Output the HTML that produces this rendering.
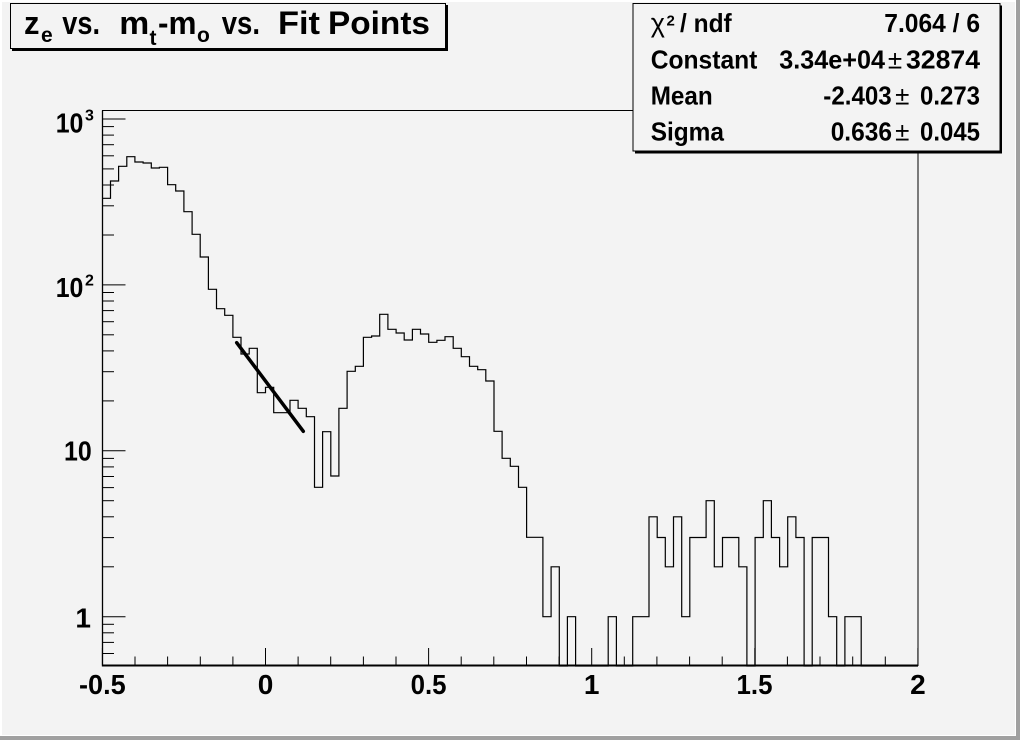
<!DOCTYPE html>
<html>
<head>
<meta charset="utf-8">
<style>
html,body{margin:0;padding:0;background:#f3f3f3;}
svg{display:block;}
text{font-family:"Liberation Sans",Arial,sans-serif;font-weight:bold;fill:#000;}
</style>
</head>
<body>
<svg width="1020" height="740" viewBox="0 0 1020 740" xmlns="http://www.w3.org/2000/svg">
  <!-- canvas background and bevel -->
  <rect x="0" y="0" width="1020" height="740" fill="#f3f3f3"/>
  <rect x="0" y="0" width="1020" height="2" fill="#ffffff"/>
  <rect x="0" y="0" width="2" height="740" fill="#ffffff"/>
  <rect x="1015" y="0" width="1" height="736" fill="#ffffff"/>
  <rect x="0" y="735" width="1016" height="1" fill="#ffffff"/>
  <rect x="1016" y="0" width="4" height="740" fill="#a0a0a0"/>
  <rect x="0" y="736" width="1020" height="4" fill="#a0a0a0"/>

  <!-- frame -->
  <rect x="102.5" y="110.5" width="815.5" height="555" fill="none" stroke="#000" stroke-width="1"/>
  <line x1="102.5" y1="665.5" x2="918" y2="665.5" stroke="#000" stroke-width="2"/>
  <line x1="102.5" y1="110.5" x2="102.5" y2="666.5" stroke="#000" stroke-width="1.3"/>

  <!-- histogram -->
  <path fill="none" stroke="#000" stroke-width="1.2" d="M102.3 198.3
    H110.5 V181 H118.6 V166.3 H126.8 V156.7 H134.9 V162 H143.1 V163 H151.3 V168 H159.4 V167.3
    H167.6 V184.7 H175.7 V191 H183.9 V211.7 H192.1 V234.3 H200.2 V257 H208.4 V289.3 H216.5 V308.7
    H224.7 V315.3 H232.9 V337.3 H241 V354 H249.2 V348.3 H257.3 V392.7 H265.5 V387.3 H273.7 V412.7
    H290 V400.3 H298.1 V408.3 H306.3 V416.7 H314.5 V487.3 H322.6 V431.7 H330.8 V476 H338.9 V408.3
    H347.1 V371.3 H355.3 V366.3 H363.4 V337.3 H371.6 V336 H379.7 V314.3 H387.9 V329.3 H396.1 V333
    H404.2 V340 H412.4 V329.3 H420.5 V334 H428.7 V342.3 H436.9 V340.3 H445 V336.7 H453.2 V348.3
    H461.3 V356.7 H469.5 V366.3 H477.7 V369.7 H485.8 V381 H494 V431.3 H502.1 V458.3 H510.3 V466.3
    H518.5 V487.3 H526.6 V537.3 H542.9 V616.7 H551.1 V566.8 H559.3 V666 H567.4 V616.7 H575.6 V666
    H608.2 V616.7 H616.4 V666 H632.7 V616.7 H649 V516.8 H657.2 V537.5 H665.3 V566.8 H673.5 V516.8
    H681.7 V616.7 H689.8 V537.5 H706.1 V500.7 H714.3 V566.8 H722.5 V537.5 H738.8 V566.8 H746.9 V666
    H755.1 V537.5 H763.3 V500.7 H771.4 V537.5 H779.6 V566.8 H787.7 V516.8 H795.9 V537.5 H804.1 V666
    H812.2 V537.5 H828.5 V616.7 H836.7 V666 H844.9 V616.7 H861.2 V666 H918"/>

  <!-- fit line -->
  <line x1="236.7" y1="342.7" x2="303.3" y2="431.3" stroke="#000" stroke-width="3.5" stroke-linecap="round"/>

  <!-- y axis ticks -->
  <g stroke="#000" stroke-width="1">
    <line x1="102.5" y1="119" x2="125.5" y2="119"/>
    <line x1="102.5" y1="284.9" x2="125.5" y2="284.9"/>
    <line x1="102.5" y1="450.8" x2="125.5" y2="450.8"/>
    <line x1="102.5" y1="616.7" x2="125.5" y2="616.7"/>
    <line x1="102.5" y1="126.6" x2="114" y2="126.6"/>
    <line x1="102.5" y1="135.1" x2="114" y2="135.1"/>
    <line x1="102.5" y1="144.7" x2="114" y2="144.7"/>
    <line x1="102.5" y1="155.8" x2="114" y2="155.8"/>
    <line x1="102.5" y1="168.9" x2="114" y2="168.9"/>
    <line x1="102.5" y1="185" x2="114" y2="185"/>
    <line x1="102.5" y1="205.8" x2="114" y2="205.8"/>
    <line x1="102.5" y1="235" x2="114" y2="235"/>
    <line x1="102.5" y1="292.5" x2="114" y2="292.5"/>
    <line x1="102.5" y1="301" x2="114" y2="301"/>
    <line x1="102.5" y1="310.6" x2="114" y2="310.6"/>
    <line x1="102.5" y1="321.7" x2="114" y2="321.7"/>
    <line x1="102.5" y1="334.8" x2="114" y2="334.8"/>
    <line x1="102.5" y1="350.9" x2="114" y2="350.9"/>
    <line x1="102.5" y1="371.7" x2="114" y2="371.7"/>
    <line x1="102.5" y1="400.9" x2="114" y2="400.9"/>
    <line x1="102.5" y1="458.4" x2="114" y2="458.4"/>
    <line x1="102.5" y1="466.9" x2="114" y2="466.9"/>
    <line x1="102.5" y1="476.5" x2="114" y2="476.5"/>
    <line x1="102.5" y1="487.6" x2="114" y2="487.6"/>
    <line x1="102.5" y1="500.7" x2="114" y2="500.7"/>
    <line x1="102.5" y1="516.8" x2="114" y2="516.8"/>
    <line x1="102.5" y1="537.6" x2="114" y2="537.6"/>
    <line x1="102.5" y1="566.8" x2="114" y2="566.8"/>
    <line x1="102.5" y1="624.3" x2="114" y2="624.3"/>
    <line x1="102.5" y1="632.8" x2="114" y2="632.8"/>
    <line x1="102.5" y1="642.4" x2="114" y2="642.4"/>
    <line x1="102.5" y1="653.5" x2="114" y2="653.5"/>
  </g>

  <!-- x axis ticks -->
  <g stroke="#000" stroke-width="1">
    <line x1="102.4" y1="648" x2="102.4" y2="665.5"/>
    <line x1="265.5" y1="648" x2="265.5" y2="665.5"/>
    <line x1="428.6" y1="648" x2="428.6" y2="665.5"/>
    <line x1="591.7" y1="648" x2="591.7" y2="665.5"/>
    <line x1="754.8" y1="648" x2="754.8" y2="665.5"/>
    <line x1="917.9" y1="648" x2="917.9" y2="665.5"/>
    <line x1="135" y1="656.5" x2="135" y2="665.5"/>
    <line x1="167.6" y1="656.5" x2="167.6" y2="665.5"/>
    <line x1="200.3" y1="656.5" x2="200.3" y2="665.5"/>
    <line x1="232.9" y1="656.5" x2="232.9" y2="665.5"/>
    <line x1="298.1" y1="656.5" x2="298.1" y2="665.5"/>
    <line x1="330.7" y1="656.5" x2="330.7" y2="665.5"/>
    <line x1="363.4" y1="656.5" x2="363.4" y2="665.5"/>
    <line x1="396" y1="656.5" x2="396" y2="665.5"/>
    <line x1="461.2" y1="656.5" x2="461.2" y2="665.5"/>
    <line x1="493.8" y1="656.5" x2="493.8" y2="665.5"/>
    <line x1="526.5" y1="656.5" x2="526.5" y2="665.5"/>
    <line x1="559.1" y1="656.5" x2="559.1" y2="665.5"/>
    <line x1="624.3" y1="656.5" x2="624.3" y2="665.5"/>
    <line x1="656.9" y1="656.5" x2="656.9" y2="665.5"/>
    <line x1="689.6" y1="656.5" x2="689.6" y2="665.5"/>
    <line x1="722.2" y1="656.5" x2="722.2" y2="665.5"/>
    <line x1="787.4" y1="656.5" x2="787.4" y2="665.5"/>
    <line x1="820" y1="656.5" x2="820" y2="665.5"/>
    <line x1="852.7" y1="656.5" x2="852.7" y2="665.5"/>
    <line x1="885.3" y1="656.5" x2="885.3" y2="665.5"/>
  </g>

  <!-- y labels -->
  <text x="55.7" y="132.3" font-size="28" textLength="27.7" lengthAdjust="spacingAndGlyphs">10</text>
  <text x="85" y="120.5" font-size="16">3</text>
  <text x="55.7" y="297" font-size="28" textLength="27.7" lengthAdjust="spacingAndGlyphs">10</text>
  <text x="85" y="285.5" font-size="16">2</text>
  <text x="64" y="460.7" font-size="28" textLength="27.7" lengthAdjust="spacingAndGlyphs">10</text>
  <text x="91" y="627.3" font-size="28" text-anchor="end">1</text>

  <!-- x labels -->
  <text x="79" y="694" font-size="28" textLength="46.7" lengthAdjust="spacingAndGlyphs">-0.5</text>
  <text x="265.5" y="694" font-size="28" text-anchor="middle">0</text>
  <text x="410.6" y="694" font-size="28" textLength="36" lengthAdjust="spacingAndGlyphs">0.5</text>
  <text x="591.7" y="694" font-size="28" text-anchor="middle">1</text>
  <text x="736.5" y="694" font-size="28" textLength="36" lengthAdjust="spacingAndGlyphs">1.5</text>
  <text x="917.9" y="694" font-size="28" text-anchor="middle">2</text>

  <!-- title box -->
  <rect x="12" y="5" width="436" height="46" fill="#000"/>
  <rect x="10.5" y="3.5" width="435" height="45" fill="#f3f3f3" stroke="#000" stroke-width="1"/>
  <text x="24" y="34" font-size="32" textLength="15.5" lengthAdjust="spacingAndGlyphs">z</text>
  <text x="41" y="42" font-size="21">e</text>
  <text x="62.3" y="34" font-size="32" textLength="37.7" lengthAdjust="spacingAndGlyphs">vs.</text>
  <text x="119.3" y="34" font-size="32" textLength="30" lengthAdjust="spacingAndGlyphs">m</text>
  <text x="149.5" y="45" font-size="21">t</text>
  <text x="158" y="34" font-size="32" textLength="38.5" lengthAdjust="spacingAndGlyphs">-m</text>
  <text x="197" y="42" font-size="21">o</text>
  <text x="221.7" y="34" font-size="32" textLength="38.3" lengthAdjust="spacingAndGlyphs">vs.</text>
  <text x="278" y="34" font-size="32" textLength="42" lengthAdjust="spacingAndGlyphs">Fit</text>
  <text x="328" y="34" font-size="32" textLength="102" lengthAdjust="spacingAndGlyphs">Points</text>

  <!-- stats box -->
  <rect x="635" y="5.5" width="367" height="148" fill="#000"/>
  <rect x="633" y="3.5" width="367" height="147.5" fill="#f3f3f3" stroke="#000" stroke-width="1"/>
  <text x="650.7" y="32" font-size="27" style="font-weight:normal">χ</text>
  <text x="666.5" y="25.5" font-size="15">2</text>
  <text x="680" y="32" font-size="26" textLength="51.7" lengthAdjust="spacingAndGlyphs">/ ndf</text>
  <text x="884.3" y="32" font-size="26" textLength="95.7" lengthAdjust="spacingAndGlyphs">7.064 / 6</text>

  <text x="650.7" y="68.5" font-size="26" textLength="106.7" lengthAdjust="spacingAndGlyphs">Constant</text>
  <text x="779.3" y="68.5" font-size="26" textLength="105.7" lengthAdjust="spacingAndGlyphs">3.34e+04</text>
  <text x="895" y="68.5" font-size="26" text-anchor="middle" style="font-weight:normal">±</text>
  <text x="906" y="68.5" font-size="26" textLength="74" lengthAdjust="spacingAndGlyphs">32874</text>

  <text x="650.7" y="104.3" font-size="26" textLength="62" lengthAdjust="spacingAndGlyphs">Mean</text>
  <text x="823.3" y="104.3" font-size="26" textLength="68.4" lengthAdjust="spacingAndGlyphs">-2.403</text>
  <text x="902.3" y="104.3" font-size="26" text-anchor="middle" style="font-weight:normal">±</text>
  <text x="920" y="104.3" font-size="26" textLength="60" lengthAdjust="spacingAndGlyphs">0.273</text>

  <text x="650.7" y="140.3" font-size="26" textLength="73.3" lengthAdjust="spacingAndGlyphs">Sigma</text>
  <text x="830.7" y="140.3" font-size="26" textLength="61.3" lengthAdjust="spacingAndGlyphs">0.636</text>
  <text x="902.3" y="140.3" font-size="26" text-anchor="middle" style="font-weight:normal">±</text>
  <text x="920" y="140.3" font-size="26" textLength="60" lengthAdjust="spacingAndGlyphs">0.045</text>
</svg>
</body>
</html>
